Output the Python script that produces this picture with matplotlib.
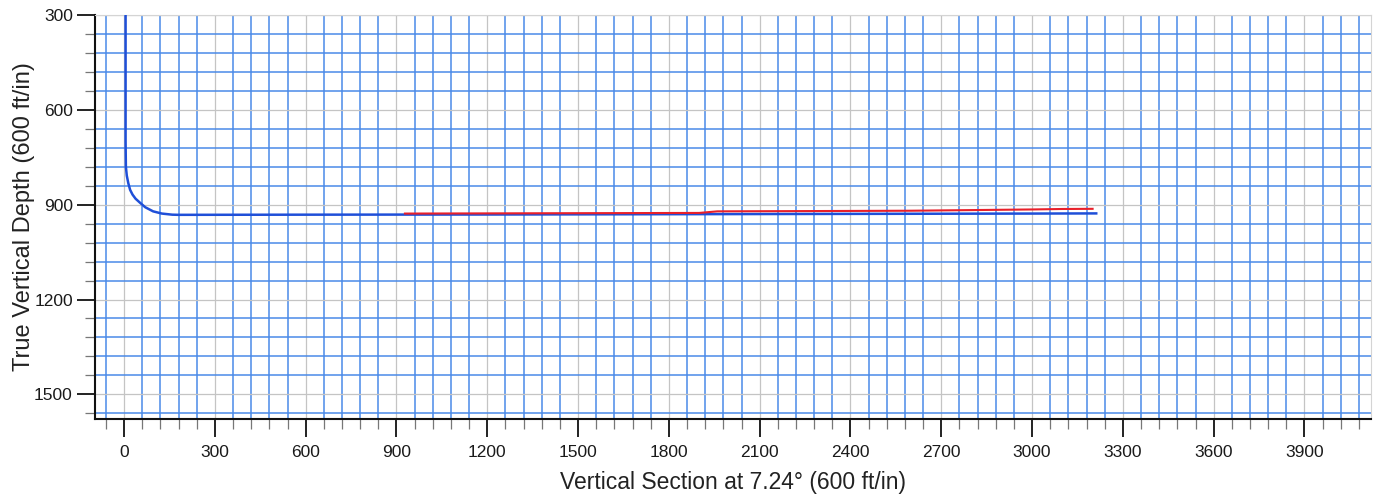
import numpy as np
import matplotlib
matplotlib.use("Agg")
import matplotlib.pyplot as plt
from matplotlib.ticker import MultipleLocator

# planned well path (blue) - vertical section vs TVD, ft
planVS = [5, 5, 5, 6, 9, 14, 20, 28, 38, 53, 70, 96, 125, 159, 180, 600, 1200, 1800, 2400, 3000, 3212]
planTVD = [300, 500, 700, 780, 808, 832, 853, 868, 881, 894, 908, 921, 928, 931.5, 932, 931.5, 931, 930, 929, 928, 927.5]

# actual lateral (red)
actVS = [928, 1400, 1900, 1960, 2300, 2600, 2800, 3000, 3100, 3200]
actTVD = [928, 927, 926, 921, 920, 919, 917, 915, 913.5, 913]

xTicks = [0, 300, 600, 900, 1200, 1500, 1800, 2100, 2400, 2700, 3000, 3300, 3600, 3900]
yTicks = [300, 600, 900, 1200, 1500]

plt.rcParams['font.family'] = ['Liberation Sans', 'DejaVu Sans']

fig = plt.figure(figsize=(13.81, 5.03), dpi=100)
ax = fig.add_axes([0.0688, 0.167, 0.9240, 0.803])

ax.plot(planVS, planTVD, color='#1f4fd8', lw=1.8, zorder=4)
ax.plot(actVS, actTVD, color='#e8202a', lw=1.5, zorder=5)

ax.set_xlim(-96, 4120)
ax.set_ylim(1578, 300)

ax.set_xticks(xTicks)
ax.set_yticks(yTicks)
ax.xaxis.set_minor_locator(MultipleLocator(60))
ax.yaxis.set_minor_locator(MultipleLocator(60))

ax.grid(which='minor', color='#4a8ae8', lw=1.1, zorder=1)
ax.grid(which='major', color='#c4c4c4', lw=0.9, zorder=2)
ax.set_axisbelow(True)

for s in ['top', 'right']:
    ax.spines[s].set_color('#d4d4d4')
    ax.spines[s].set_linewidth(0.8)
for s in ['left', 'bottom']:
    ax.spines[s].set_color('#111111')
    ax.spines[s].set_linewidth(1.5)

ax.tick_params(which='major', direction='out', length=13, width=1.4, color='#222222',
               labelsize=12.5, labelcolor='#1a1a1a')
ax.tick_params(axis='x', which='major', pad=6)
ax.tick_params(axis='y', which='major', pad=3)
ax.tick_params(which='minor', direction='out', length=7, width=0.9, color='#777777')

ax.set_xlabel("Vertical Section at 7.24° (600 ft/in)", fontsize=16.5, color='#222222', labelpad=8)
ax.set_ylabel("True Vertical Depth (600 ft/in)", fontsize=17, color='#222222', labelpad=-1)

fig.savefig("out.png", dpi=100)
